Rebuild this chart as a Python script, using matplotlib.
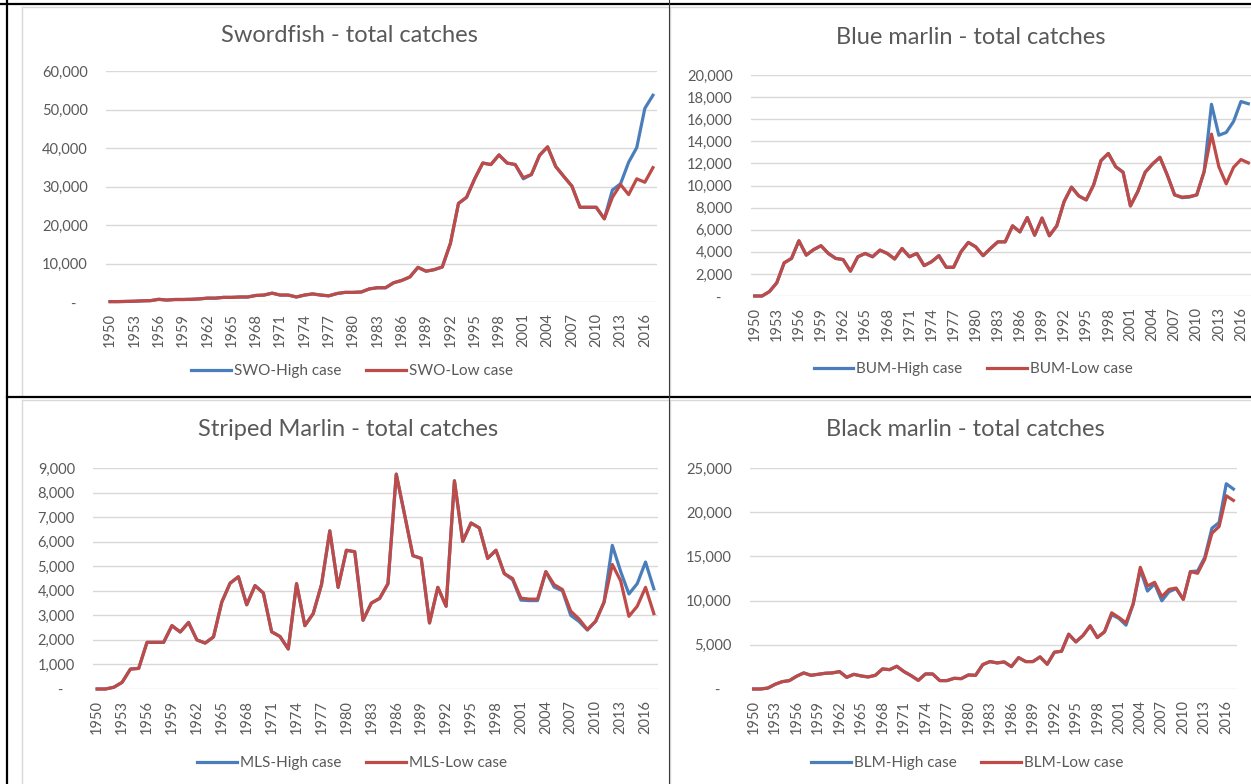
import numpy as np
import matplotlib

matplotlib.use("Agg")
import matplotlib.pyplot as plt
from matplotlib.lines import Line2D
from matplotlib.ticker import FuncFormatter

plt.rcParams["font.family"] = ["Lato", "DejaVu Sans"]

W, H = 1251, 784
BLUE = "#4A7EBB"
RED = "#BE4B48"
TEXT = "#595959"
GRID = "#D9D9D9"

years = np.arange(1950, 2018)

swo_low = [100, 100, 150, 200, 300, 350, 700, 500, 650, 650,
           700, 800, 1000, 1000, 1200, 1200, 1300, 1300, 1700, 1800,
           2300, 1800, 1800, 1300, 1800, 2100, 1800, 1600, 2200, 2500,
           2500, 2600, 3400, 3700, 3700, 5000, 5600, 6500, 9000, 8000,
           8400, 9100, 15200, 25600, 27200, 32000, 36100, 35700, 38200, 36100,
           35700, 32300, 33100, 38100, 40300, 35200, 32600, 30100, 24600, 24600,
           24600, 21600, 27200, 30500, 27900, 32000, 31100, 34900]
swo_high = [100, 100, 150, 200, 300, 350, 700, 500, 650, 650,
            700, 800, 1000, 1000, 1200, 1200, 1300, 1300, 1700, 1800,
            2300, 1800, 1800, 1300, 1800, 2100, 1800, 1600, 2200, 2500,
            2500, 2600, 3400, 3700, 3700, 5000, 5600, 6500, 9000, 8000,
            8400, 9100, 15200, 25600, 27200, 32000, 36100, 35700, 38200, 36100,
            35700, 32000, 33100, 38100, 40300, 35200, 32600, 30100, 24600, 24600,
            24600, 21600, 29100, 30700, 36300, 40100, 50300, 53700]

bum_low = [0, 0, 400, 1200, 3000, 3400, 5000, 3700, 4200, 4550,
           3850, 3400, 3300, 2250, 3550, 3850, 3550, 4150, 3850, 3350,
           4300, 3550, 3850, 2750, 3100, 3650, 2600, 2600, 4000, 4850,
           4450, 3650, 4300, 4900, 4900, 6350, 5800, 7100, 5500, 7050,
           5450, 6350, 8550, 9850, 9050, 8700, 10050, 12250, 12900, 11700,
           11200, 8150, 9450, 11200, 11950, 12550, 10950, 9150, 8950, 9000,
           9150, 11250, 14650, 11700, 10150, 11650, 12350, 12050]
bum_high = [0, 0, 400, 1200, 3000, 3400, 5000, 3700, 4200, 4550,
            3850, 3400, 3300, 2250, 3550, 3850, 3550, 4150, 3850, 3350,
            4300, 3550, 3850, 2750, 3100, 3650, 2600, 2600, 4000, 4850,
            4450, 3650, 4300, 4900, 4900, 6350, 5800, 7100, 5500, 7050,
            5450, 6350, 8550, 9850, 9050, 8700, 10050, 12250, 12900, 11700,
            11200, 8150, 9450, 11200, 11950, 12550, 10950, 9150, 8900, 8950,
            9150, 11250, 17350, 14550, 14800, 15800, 17600, 17400]

mls_low = [0, 0, 70, 270, 810, 840, 1900, 1900, 1900, 2580,
           2320, 2710, 2000, 1870, 2120, 3540, 4310, 4570, 3430, 4210,
           3910, 2330, 2140, 1630, 4290, 2580, 3070, 4250, 6440, 4140,
           5650, 5590, 2800, 3500, 3690, 4290, 8750, 7100, 5430, 5320,
           2690, 4140, 3370, 8480, 6010, 6760, 6560, 5320, 5650, 4700,
           4500, 3700, 3660, 3660, 4780, 4250, 4050, 3170, 2850, 2420,
           2760, 3530, 5070, 4410, 2960, 3370, 4140, 3070]
mls_high = [0, 0, 70, 270, 810, 840, 1900, 1900, 1900, 2580,
            2320, 2710, 2000, 1870, 2120, 3540, 4310, 4570, 3430, 4210,
            3910, 2330, 2140, 1630, 4290, 2580, 3070, 4250, 6440, 4140,
            5650, 5590, 2800, 3500, 3690, 4290, 8750, 7100, 5430, 5320,
            2690, 4140, 3370, 8480, 6010, 6760, 6560, 5320, 5650, 4700,
            4450, 3620, 3600, 3600, 4780, 4150, 4000, 3000, 2750, 2400,
            2760, 3530, 5850, 4790, 3870, 4290, 5170, 4080]

blm_low = [0, 0, 110, 530, 830, 950, 1440, 1820, 1550, 1660,
           1780, 1820, 1970, 1320, 1660, 1480, 1360, 1550, 2270, 2190,
           2570, 1970, 1510, 980, 1700, 1700, 950, 950, 1210, 1170,
           1590, 1550, 2760, 3100, 2950, 3060, 2530, 3550, 3100, 3100,
           3630, 2800, 4160, 4270, 6200, 5330, 6050, 7150, 5820, 6470,
           8620, 8090, 7490, 9610, 13770, 11650, 12070, 10440, 11270, 11420,
           10140, 13280, 13090, 14680, 17620, 18380, 21860, 21330]
blm_high = [0, 0, 110, 530, 830, 950, 1440, 1820, 1550, 1660,
            1780, 1820, 1970, 1320, 1660, 1480, 1360, 1550, 2270, 2190,
            2570, 1970, 1510, 980, 1700, 1700, 950, 950, 1210, 1170,
            1590, 1550, 2760, 3100, 2950, 3060, 2530, 3550, 3100, 3100,
            3630, 2800, 4160, 4270, 6200, 5330, 6050, 7150, 5820, 6470,
            8400, 8000, 7220, 9610, 13500, 11080, 11900, 9980, 11000, 11350,
            10140, 13280, 13350, 14900, 18190, 18830, 23220, 22620]

# title, series, legend labels, y max, y step, axes box (px: left, top, right, bottom),
# title centre and legend centre (px)
panels = [
    ("Swordfish - total catches", swo_high, swo_low, ("SWO-High case", "SWO-Low case"),
     60000, 10000, (106, 71, 657, 302), (349, 35), (352, 370)),
    ("Blue marlin - total catches", bum_high, bum_low, ("BUM-High case", "BUM-Low case"),
     20000, 2000, (751, 75, 1252, 296), (971, 38), (973, 368)),
    ("Striped Marlin - total catches", mls_high, mls_low, ("MLS-High case", "MLS-Low case"),
     9000, 1000, (93, 468, 658, 689), (348, 430), (352, 762)),
    ("Black marlin - total catches", blm_high, blm_low, ("BLM-High case", "BLM-Low case"),
     25000, 5000, (750, 468, 1237, 689), (965, 430), (967, 762)),
]


def fmt(v, _):
    # Excel accounting format: zero shown as a dash set in from the right
    return "-\u00a0\u00a0\u00a0" if v == 0 else f"{v:,.0f}"


fig = plt.figure(figsize=(W / 100, H / 100), dpi=100)

# page / chart frames
frame = fig.add_axes([0, 0, 1, 1], zorder=-1)
frame.set_xlim(0, W)
frame.set_ylim(H, 0)
frame.axis("off")
for xf in (22, 670):
    frame.plot([xf, xf], [7, 395], color=GRID, lw=1)
    frame.plot([xf, xf], [400, H], color=GRID, lw=1)
frame.plot([22, W], [7, 7], color=GRID, lw=1)
frame.plot([22, W], [400, 400], color=GRID, lw=1)
frame.plot([0, W], [3.5, 3.5], color="black", lw=1.6)
frame.plot([7, 7], [0, H], color="black", lw=1.6)
frame.plot([7, W], [397, 397], color="black", lw=1.6)
frame.plot([668.5, 668.5], [0, H], color="#3a3a3a", lw=0.8)

x = np.arange(len(years))
for title, high, low, labels, ymax, ystep, box, tpos, lpos in panels:
    l, t, r, b = box
    ax = fig.add_axes([l / W, 1 - b / H, (r - l) / W, (b - t) / H])
    ax.plot(x, high, color=BLUE, lw=2.3, solid_joinstyle="round", clip_on=False)
    ax.plot(x, low, color=RED, lw=2.3, solid_joinstyle="round", clip_on=False)
    ax.set_xlim(-0.5, len(years) - 0.5)
    ax.set_ylim(0, ymax)
    ax.set_yticks(np.arange(0, ymax + 1, ystep))
    ax.yaxis.set_major_formatter(FuncFormatter(fmt))
    ax.set_xticks(x[::3])
    ax.set_xticklabels([str(y) for y in years[::3]], rotation=90)
    ax.tick_params(axis="both", length=0, colors=TEXT, labelsize=10.5)
    ax.tick_params(axis="y", pad=13)
    ax.tick_params(axis="x", pad=8)
    for s in ax.spines.values():
        s.set_visible(False)
    ax.yaxis.grid(True, color=GRID, lw=1)
    ax.set_axisbelow(True)
    fig.text(tpos[0] / W, 1 - tpos[1] / H, title, ha="center", va="center",
             fontsize=17, color=TEXT)
    handles = [Line2D([], [], color=BLUE, lw=2.3), Line2D([], [], color=RED, lw=2.3)]
    fig.legend(handles, labels, loc="center", bbox_to_anchor=(lpos[0] / W, 1 - (lpos[1] + 1) / H),
               ncol=2, frameon=False, fontsize=11, labelcolor=TEXT, handlelength=2.6,
               handletextpad=0.2, columnspacing=1.6, borderaxespad=0, borderpad=0)

fig.savefig("out.png", dpi=100)
